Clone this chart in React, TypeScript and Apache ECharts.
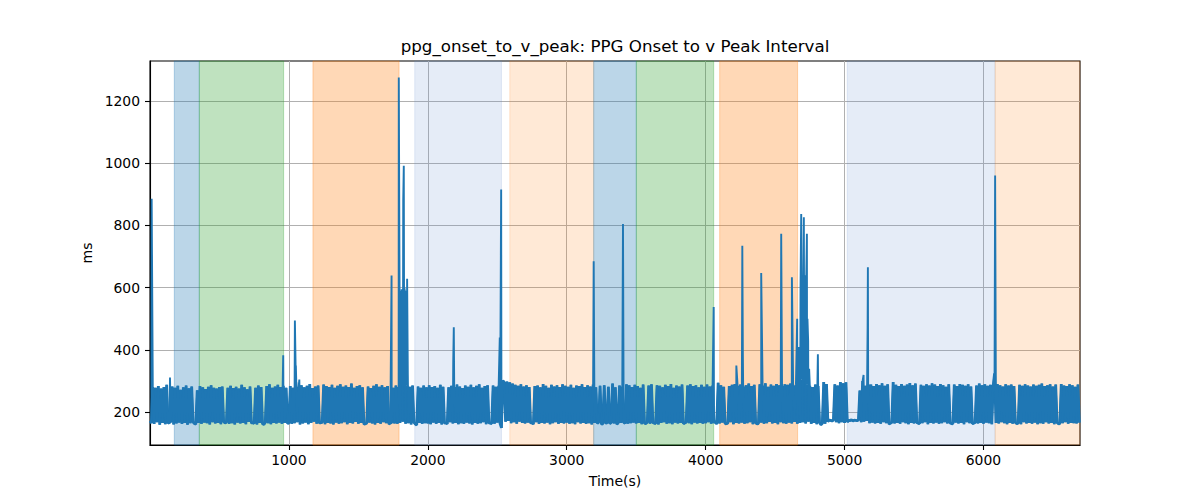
import React, { useEffect, useRef } from "react";
import * as echarts from "echarts";

const STEP = 10; // seconds between baseline samples

const SEG0 = [
  172, 166, 281, 163, 279, 168, 284, 160, 276, 166,
  281, 162, 288, 165, 167, 170, 283, 161, 279, 164,
  285, 167, 272, 163, 280, 166, 286, 160, 277, 165,
  283, 169, 164, 162, 271, 166, 284, 163, 280, 167,
  275, 165, 282, 161, 287, 168, 279, 164, 276, 166,
  281, 162, 283, 170, 166, 168, 279, 163, 285, 165,
  278, 161, 282, 167, 276, 164, 288, 166, 280, 162,
  274, 169, 283, 165, 167, 164, 279, 161, 286, 166,
  281, 163, 161, 168, 284, 165, 290, 162, 279, 166,
  283, 164, 288, 167, 281, 163, 285, 166, 279, 164,
];
const SEG1 = [
  166, 284, 163, 279, 165, 296, 168, 282, 161, 287,
  164, 280, 167, 285, 162, 291, 166, 278, 170, 283,
  163, 286, 165, 167, 168, 289, 162, 284, 166, 281,
  164, 288, 161, 279, 167, 285, 163, 290, 165, 282,
  168, 286, 162, 281, 166, 292, 164, 279, 169, 284,
  163, 287, 166, 280, 162, 163, 165, 283, 167, 278,
  164, 285, 161, 290, 166, 282, 163, 287, 168, 280,
  165, 284, 162, 166, 167, 279, 164, 286, 163, 281,
  166, 288, 170, 284, 163, 287, 165, 282, 161, 286,
  168, 162, 159, 283, 166, 279, 163, 286, 165, 280,
];
const SEG2 = [
  164, 287, 162, 281, 167, 284, 163, 279, 166, 288,
  161, 282, 165, 166, 163, 280, 168, 285, 164, 281,
  166, 289, 162, 283, 165, 278, 163, 286, 167, 282,
  164, 288, 161, 280, 166, 285, 163, 290, 165, 279,
  168, 284, 162, 287, 166, 165, 164, 286, 163, 282,
  167, 285, 164, 150, 302, 296, 170, 299, 172, 296,
  165, 292, 168, 288, 163, 285, 170, 290, 166, 283,
  164, 287, 167, 281, 165, 167, 162, 284, 168, 286,
  163, 280, 166, 291, 164, 285, 167, 279, 162, 288,
  165, 283, 168, 287, 163, 281, 166, 290, 164, 285,
];
const SEG3 = [
  167, 282, 163, 288, 165, 279, 162, 286, 168, 284,
  164, 290, 166, 281, 163, 287, 165, 283, 161, 289,
  166, 280, 164, 168, 285, 162, 163, 287, 165, 166,
  282, 163, 167, 292, 164, 280, 162, 165, 286, 166,
  283, 168, 164, 290, 163, 287, 165, 281, 167, 288,
  164, 284, 166, 279, 162, 289, 165, 164, 168, 286,
  163, 290, 167, 165, 164, 287, 161, 285, 166, 280,
  168, 288, 163, 284, 165, 291, 162, 279, 167, 286,
  164, 283, 166, 289, 163, 166, 168, 286, 165, 290,
  162, 284, 167, 287, 164, 280, 166, 288, 163, 282,
];
const SEG4 = [
  165, 289, 168, 283, 163, 286, 166, 172, 162, 295,
  164, 287, 167, 282, 163, 164, 165, 284, 168, 288,
  162, 291, 166, 285, 164, 289, 167, 283, 163, 287,
  165, 292, 168, 284, 162, 288, 166, 163, 164, 290,
  167, 286, 163, 293, 165, 282, 169, 289, 164, 285,
  166, 291, 162, 287, 168, 284, 165, 290, 163, 288,
  167, 292, 164, 286, 169, 288, 163, 295, 166, 305,
  168, 300, 164, 290, 170, 285, 163, 281, 166, 289,
  162, 284, 167, 160, 165, 297, 163, 291, 170, 175,
  174, 172, 175, 290, 168, 286, 165, 297, 168, 293,
];
const SEG5 = [
  166, 296, 169, 174, 173, 176, 172, 175, 174, 173,
  175, 270, 168, 300, 170, 285, 172, 290, 165, 289,
  167, 284, 164, 291, 166, 287, 163, 293, 168, 285,
  165, 290, 162, 165, 167, 297, 164, 288, 166, 284,
  163, 291, 168, 285, 165, 289, 162, 294, 166, 287,
  164, 292, 167, 165, 163, 288, 165, 285, 168, 290,
  162, 286, 166, 293, 164, 289, 167, 284, 163, 291,
  165, 287, 168, 282, 164, 290, 166, 164, 163, 289,
  167, 284, 164, 291, 166, 288, 162, 285, 168, 290,
  165, 283, 163, 165, 167, 286, 164, 292, 166, 287,
];
const SEG6 = [
  163, 290, 167, 285, 165, 288, 162, 284, 325, 166,
  291, 164, 287, 168, 283, 165, 290, 162, 286, 166,
  289, 163, 284, 167, 164, 165, 288, 162, 285, 168,
  290, 164, 286, 166, 283, 163, 289, 167, 285, 162,
  288, 165, 292, 163, 284, 168, 287, 164, 290, 166,
  283, 162, 289, 167, 163, 164, 291, 165, 286, 168,
  284, 163, 290, 166, 287, 165, 282, 164, 289, 167,
];

// [time (s), value (ms)] of excursions above the baseline band
const SPIKES: [number, number][] = [
  [12, 886], [144, 312], [959, 383], [1043, 495], [1050, 350], [1075, 305],
  [1739, 639], [1791, 1275],
  [1803, 590], [1808, 560], [1812, 595], [1818, 575], [1823, 880], [1827, 992],
  [1831, 600], [1836, 585], [1841, 570], [1846, 590], [1851, 629], [1856, 320],
  [2183, 362], [2187, 473], [2518, 440], [2528, 915],
  [3194, 685], [3405, 805], [4058, 538],
  [4221, 350], [4264, 735], [4268, 383], [4400, 647], [4544, 773],
  [4621, 634], [4625, 480], [4659, 500], [4672, 410],
  [4683, 600], [4688, 837], [4692, 620], [4697, 560], [4702, 620], [4707, 826],
  [4712, 590], [4717, 640], [4722, 560], [4729, 773], [4733, 500], [4738, 430],
  [4745, 340], [4808, 386], [5137, 320], [5166, 473], [5168, 666], [6084, 960],
];

const SPAN_START = [175, 355, 1173, 1906, 2590, 3194, 3501, 4101, 5019, 6084];
const SPAN_END = [355, 962, 1793, 2530, 3194, 3501, 4058, 4662, 6084, 6695];
const SPAN_KIND = ["blue", "green", "orange", "lightblue", "lightorange", "blue", "green", "orange", "lightblue", "lightorange"];
const SPAN_COLORS: Record<string, string> = {
  blue: "rgba(31,119,180,0.3)",
  green: "rgba(44,160,44,0.3)",
  orange: "rgba(255,127,14,0.3)",
  lightblue: "rgba(100,140,210,0.17)",
  lightorange: "rgba(255,127,14,0.17)",
};

const X_TICKS = [1000, 2000, 3000, 4000, 5000, 6000];
const Y_TICKS = [200, 400, 600, 800, 1000, 1200];
const X_MIN = 0;
const X_MAX = 6695;
const Y_MIN = 95;
const Y_MAX = 1328;

const TITLE = "ppg_onset_to_v_peak: PPG Onset to v Peak Interval";
const FONT = "DejaVu Sans";
const LINE_COLOR = "#1f77b4";

export default function App() {
  const ref = useRef<HTMLDivElement>(null);

  useEffect(() => {
    document.body.style.margin = "0";
    const chart = echarts.init(ref.current!, null, { renderer: "svg" });

    const baseline = [...SEG0, ...SEG1, ...SEG2, ...SEG3, ...SEG4, ...SEG5, ...SEG6].map(
      (v, i) => [i * STEP, v] as [number, number]
    );
    const points = [...baseline, ...SPIKES].sort((a, b) => a[0] - b[0]);

    const areas = SPAN_START.map((s, i) => {
      const c = SPAN_COLORS[SPAN_KIND[i]];
      return [
        { xAxis: s, itemStyle: { color: c, borderColor: c, borderWidth: 1 } },
        { xAxis: SPAN_END[i] },
      ];
    });

    const axisCommon = {
      axisLine: { show: true, lineStyle: { color: "#000", width: 1.1 } },
      axisTick: { show: true, inside: false, length: 5, lineStyle: { color: "#000", width: 1.1 } },
      splitLine: { show: true, lineStyle: { color: "#b0b0b0", width: 1 } },
      nameTextStyle: { color: "#000", fontFamily: FONT, fontSize: 14 },
    };
    const plain = (v: number) => String(v);

    chart.setOption({
      animation: false,
      grid: {
        left: 150, right: 120, top: 61, bottom: 55,
        containLabel: false,
        show: true, borderColor: "#000", borderWidth: 1.1, backgroundColor: "transparent",
      },
      graphic: [
        {
          type: "text", x: 615, y: 46,
          style: {
            text: TITLE, fill: "#000", font: `16.7px "${FONT}"`,
            textAlign: "center", textVerticalAlign: "middle",
          },
        },
      ],
      xAxis: {
        type: "value", min: X_MIN, max: X_MAX,
        name: "Time(s)", nameLocation: "middle", nameGap: 29,
        ...axisCommon,
        axisTick: { ...axisCommon.axisTick, customValues: X_TICKS },
        axisLabel: {
          customValues: X_TICKS, formatter: plain,
          color: "#000", fontFamily: FONT, fontSize: 13.9, margin: 8,
        },
      },
      yAxis: {
        type: "value", min: Y_MIN, max: Y_MAX,
        name: "ms", nameLocation: "middle", nameGap: 49,
        ...axisCommon,
        axisTick: { ...axisCommon.axisTick, customValues: Y_TICKS },
        axisLabel: {
          customValues: Y_TICKS, formatter: plain,
          color: "#000", fontFamily: FONT, fontSize: 13.9, margin: 10,
        },
      },
      series: [
        {
          type: "line", data: [], z: 1, silent: true,
          markArea: { silent: true, data: areas },
        },
        {
          // the dense baseline band, drawn a little heavier so it reads as a solid band
          type: "line", data: baseline, z: 2,
          showSymbol: false, symbol: "none",
          lineStyle: { color: LINE_COLOR, width: 2.8 },
          silent: true,
        },
        {
          type: "line", data: points, z: 3,
          showSymbol: false, symbol: "none",
          lineStyle: { color: LINE_COLOR, width: 1.9 },
          silent: true,
        },
      ],
    });

    return () => chart.dispose();
  }, []);

  return <div ref={ref} style={{ width: 1200, height: 500 }} />;
}
